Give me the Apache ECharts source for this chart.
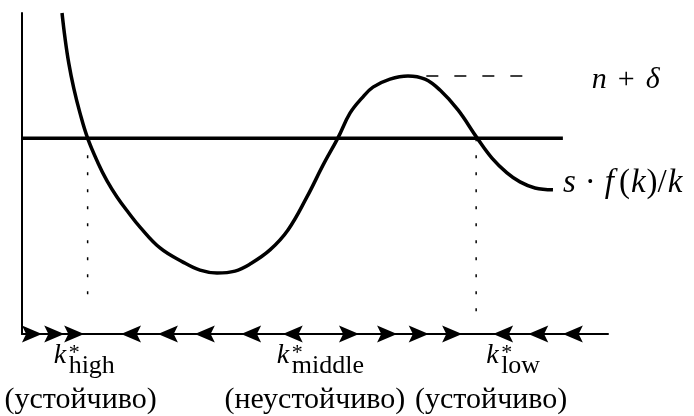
<!DOCTYPE html>
<html>
<head>
<meta charset="utf-8">
<script src="https://cdn.jsdelivr.net/npm/echarts@6/dist/echarts.min.js"></script>
<style>html,body{margin:0;padding:0;background:#fff;}#c{width:694px;height:416px;}</style>
</head>
<body>
<div id="c"></div>
<script>
// ---- data ----
const curveK = [0.683,0.734,0.798,0.883,0.990,1.118,1.297,1.451,1.621,1.809,2.014,2.355,2.747,3.038,3.328,3.635,3.891,4.232,4.539,4.863,5.137,5.392,5.597,5.80,5.990,6.28,6.587,6.877,7.133,7.44,7.765,8.02,8.276,8.498,8.754,9.061];
const curveY = [10.0,9.22,8.44,7.66,6.88,6.11,5.33,4.77,4.27,3.80,3.33,2.68,2.24,1.99,1.90,1.96,2.18,2.62,3.24,4.27,5.26,6.11,6.88,7.35,7.69,7.94,8.04,7.94,7.60,6.98,6.11,5.48,5.02,4.74,4.55,4.49];
const nDelta = 6.1;
const nDeltaEndK = 9.23;
const peakLevel = 8.04;
const peakDashK = [6.9, 8.75];
const kHigh = 1.12, kMiddle = 5.39, kLow = 7.75;
const dropHighBottom = 0.9, dropLowBottom = 0.4;
const arrowsRight = [0.17, 0.55, 0.89, 5.58, 6.23, 6.77, 7.34];
const arrowsLeft = [1.86, 2.49, 3.12, 3.91, 4.62, 8.21, 8.81, 9.40];
const eqNames = ['high', 'middle', 'low'];
const eqK = [kHigh, kMiddle, kLow];
const eqStatus = ['(устойчиво)', '(неустойчиво)', '(устойчиво)'];

const SERIF = '"Liberation Serif", "DejaVu Serif", serif';
const chart = echarts.init(document.getElementById('c'), null, {renderer: 'canvas'});
const arrowPath = 'path://M0,0 L24,10 L0,20 L5,10 Z';

chart.setOption({
  animation: false,
  grid: {left: 22, right: 86, top: 13, bottom: 82},
  xAxis: {type: 'value', min: 0, max: 10,
    axisLine: {show: true, onZero: false, lineStyle: {color: '#000', width: 2}},
    axisTick: {show: false}, axisLabel: {show: false}, splitLine: {show: false}},
  yAxis: {type: 'value', min: 0, max: 10,
    axisLine: {show: true, onZero: false, lineStyle: {color: '#000', width: 2}},
    axisTick: {show: false}, axisLabel: {show: false}, splitLine: {show: false}},
  series: [
    {type: 'line', data: [[0, nDelta], [nDeltaEndK, nDelta]], showSymbol: false,
     lineStyle: {color: '#000', width: 3.5}, z: 3},
    {type: 'line', data: curveK.map((k, i) => [k, curveY[i]]), smooth: 0.4, showSymbol: false,
     lineStyle: {color: '#000', width: 3.5}, z: 4,
     endLabel: {show: true, distance: 10, offset: [0, -7],
       formatter: '{i|s}{d|·}{f|f}{r|(}{i|k}{r|)/}{i|k}',
       rich: {i: {fontFamily: SERIF, fontStyle: 'italic', fontSize: 33, color: '#000'},
              f: {fontFamily: SERIF, fontStyle: 'italic', fontSize: 33, color: '#000', padding: [0, 4, 0, 0]},
              d: {fontFamily: SERIF, fontSize: 33, color: '#000', padding: [0, 9]},
              r: {fontFamily: SERIF, fontSize: 33, color: '#000', padding: [0, 1]}}}},
    {type: 'line', data: [[peakDashK[0], peakLevel], [peakDashK[1], peakLevel]], showSymbol: false,
     lineStyle: {color: '#000', width: 1.5, type: [12, 16]}, z: 2,
     endLabel: {show: true, distance: 57, offset: [0, 4],
       formatter: '{i|n}{r|+}{i|δ}',
       rich: {i: {fontFamily: SERIF, fontStyle: 'italic', fontSize: 30, color: '#000'},
              r: {fontFamily: SERIF, fontSize: 30, color: '#000', padding: [0, 11]}}}},
    {type: 'line', data: [[kHigh, nDelta], [kHigh, dropHighBottom]], showSymbol: false,
     lineStyle: {color: '#000', width: 1.5, type: [3, 14]}, z: 2},
    {type: 'line', data: [[kLow, nDelta], [kLow, dropLowBottom]], showSymbol: false,
     lineStyle: {color: '#000', width: 1.5, type: [3, 14]}, z: 2},
    {type: 'scatter', data: arrowsRight.map(k => [k, 0]), symbol: arrowPath, symbolKeepAspect: false,
     symbolSize: [20, 17], itemStyle: {color: '#000', opacity: 1}, z: 5, clip: false},
    {type: 'scatter', data: arrowsLeft.map(k => [k, 0]), symbol: arrowPath, symbolRotate: 180, symbolKeepAspect: false,
     symbolSize: [20, 17], itemStyle: {color: '#000', opacity: 1}, z: 5, clip: false}
  ]
});

// labels under the axis, anchored to equilibrium k values
const kOffset = [-34, -61, 10];
const statusOffset = [-7, -23, 15];
const graphics = [];
eqK.forEach((k, i) => {
  const p = chart.convertToPixel({gridIndex: 0}, [k, 0]);
  const x0 = p[0] + kOffset[i];
  const y0 = p[1];
  graphics.push({type: 'text', x: x0, y: y0 + 8,
    style: {text: 'k', font: 'italic 28px ' + SERIF, fill: '#000', align: 'left', verticalAlign: 'top'}});
  graphics.push({type: 'text', x: x0 + 15, y: y0 + 8,
    style: {text: '*', font: '22px ' + SERIF, fill: '#000', align: 'left', verticalAlign: 'top'}});
  graphics.push({type: 'text', x: x0 + 15, y: y0 + 19,
    style: {text: eqNames[i], font: '26px ' + SERIF, fill: '#000', align: 'left', verticalAlign: 'top'}});
  graphics.push({type: 'text', x: p[0] + statusOffset[i], y: y0 + 66,
    style: {text: eqStatus[i], font: '30px ' + SERIF, fill: '#000', align: 'center', verticalAlign: 'middle'}});
});
chart.setOption({graphic: graphics});
</script>
</body>
</html>
